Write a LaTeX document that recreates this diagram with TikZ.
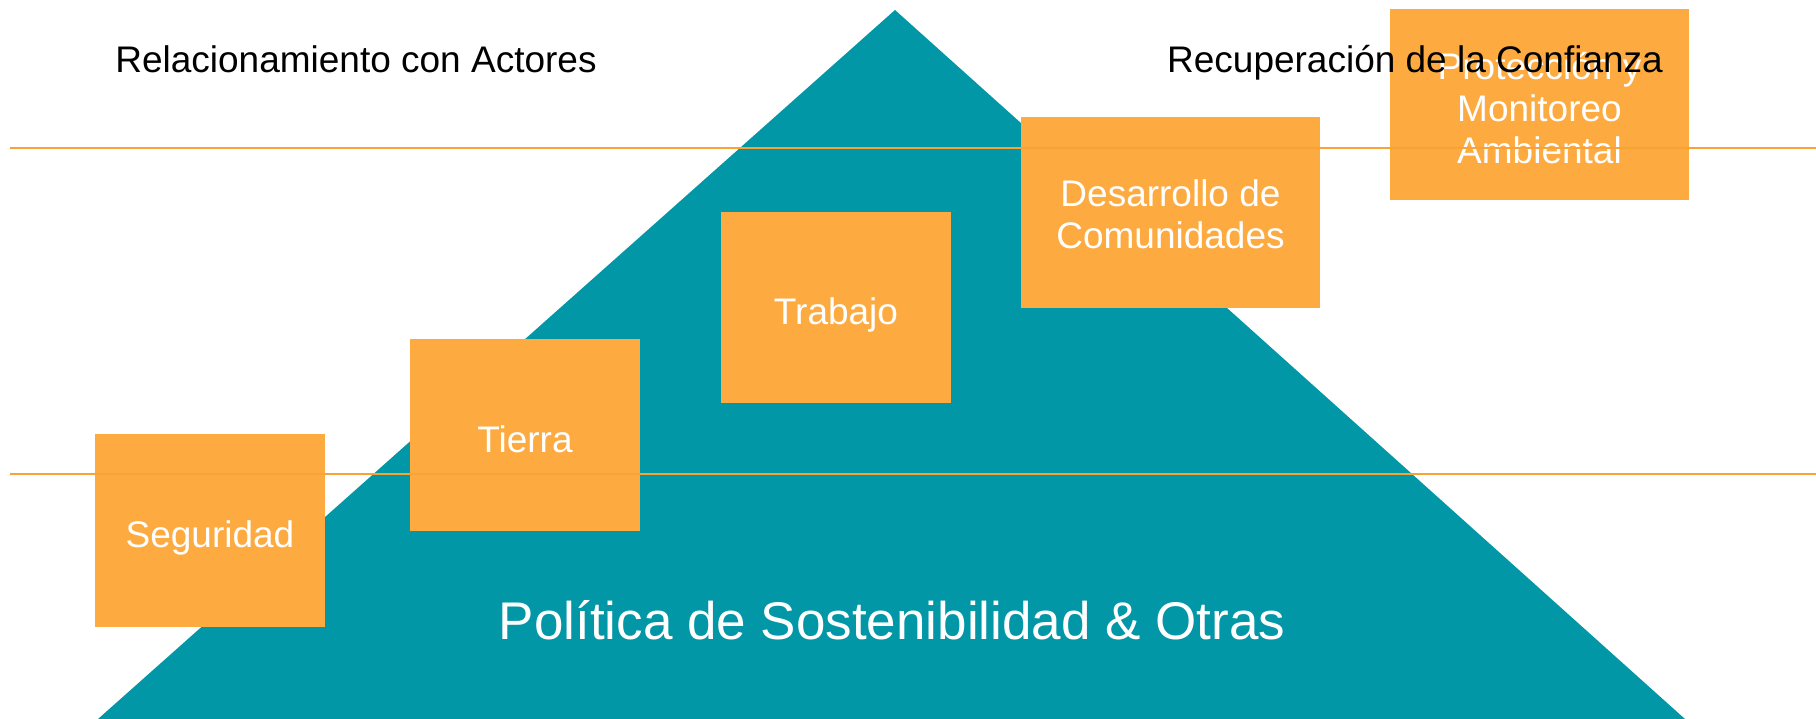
\documentclass[tikz,border=0pt]{standalone}
\usepackage{fontspec}
\setmainfont{Liberation Sans}
\definecolor{teal1}{RGB}{2,151,167}
\definecolor{boxor}{RGB}{253,170,65}
\definecolor{lineor}{RGB}{248,163,52}
\tikzset{
  stepbox/.style={fill=boxor, draw=none, inner sep=0pt, align=center, text=white,
    font=\fontsize{37}{42}\selectfont},
  oneline/.style={text height=46pt, text depth=12pt},
  toptext/.style={text=black, inner sep=0pt, anchor=base, font=\fontsize{37}{43}\selectfont},
  bandline/.style={draw=lineor, line width=2pt}
}
\begin{document}
\begin{tikzpicture}[x=1pt,y=-1pt]
\useasboundingbox (0,0) rectangle (1816,719);
% pyramid
\fill[teal1] (895,10) -- (1685,719) -- (98,719) -- cycle;
\node[text=white, inner sep=0pt, font=\fontsize{53}{60}\selectfont] (pol) at (892,620) {Política de Sostenibilidad \& Otras};
% boxes
\node[stepbox, oneline, minimum width=230, minimum height=193] (seg) at (210,530.5) {Seguridad};
\node[stepbox, oneline, minimum width=230, minimum height=192] (tie) at (525,435) {Tierra};
\node[stepbox, oneline, minimum width=230, minimum height=191] (tra) at (836,307.5) {Trabajo};
\node[stepbox, minimum width=299, minimum height=191] (des) at (1170.5,212.5) {\rule{0pt}{30pt}Desarrollo de\\Comunidades};
\node[stepbox, minimum width=299, minimum height=191] (pro) at (1539.5,104.5) {\rule{0pt}{34pt}Protección y\\Monitoreo\\Ambiental};
% band lines
\coordinate (l1a) at (10,148.5);
\coordinate (l1b) at (1816,148.5);
\coordinate (l2a) at (10,474);
\coordinate (l2b) at (1816,474);
\draw[bandline] (l1a) -- (l1b);
\draw[bandline] (l2a) -- (l2b);
% top labels
\node[toptext] (rel) at (356,73) {Relacionamiento con Actores};
\node[toptext] (rec) at (1415,73) {Recuperación de la Confianza};
\end{tikzpicture}
\end{document}
